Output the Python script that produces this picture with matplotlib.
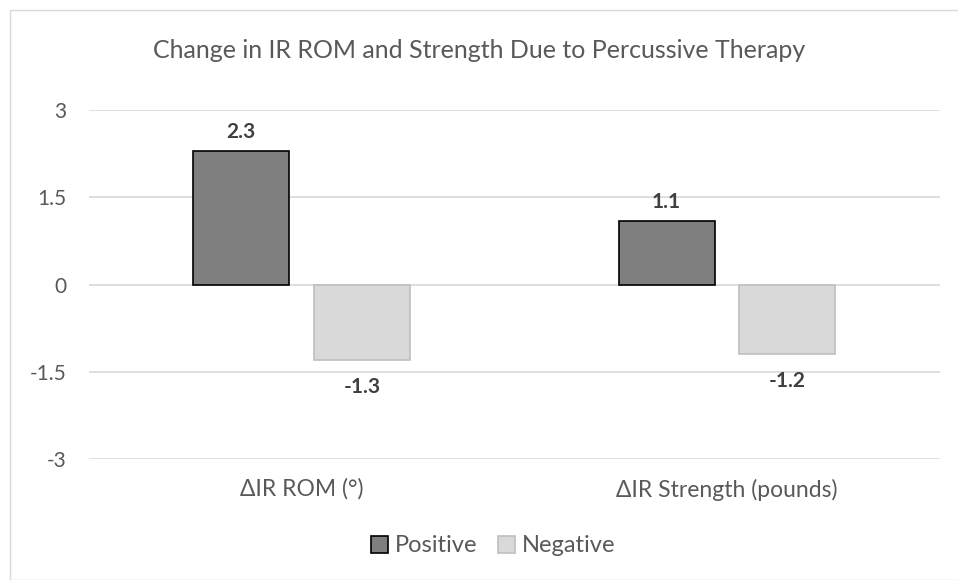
import numpy as np
import matplotlib.pyplot as plt
from matplotlib.patches import Rectangle

categories = ["\u0394IR ROM (\u00b0)", "\u0394IR Strength (pounds)"]
positive = [2.3, 1.1]
negative = [-1.3, -1.2]
series_names = ["Positive", "Negative"]
yticks = [-3, -1.5, 0, 1.5, 3]
ytick_labels = ["-3", "-1.5", "0", "1.5", "3"]

plt.rcParams['font.family'] = ['Lato', 'DejaVu Sans']
txt = '#595959'

fig = plt.figure(figsize=(9.58, 5.8), dpi=100)
ax = fig.add_axes([0.0929, 0.2086, 0.888, 0.6017])

# outer chart border
fig.patches.append(Rectangle((10/958, 0), 1, 1 - 10/580, transform=fig.transFigure,
                             fill=False, edgecolor='#d9d9d9', linewidth=1.0))

x = np.arange(len(categories))
w = 0.226
off = 0.142
b1 = ax.bar(x - off, positive, w, color='#7f7f7f', edgecolor='black', linewidth=1.2,
            label=series_names[0], zorder=3)
b2 = ax.bar(x + off, negative, w, color='#d9d9d9', edgecolor='#bfbfbf', linewidth=1.2,
            label=series_names[1], zorder=3)

for xi, v in zip(x - off, positive):
    ax.annotate(f"{v}", (xi, v), xytext=(0, 6), textcoords='offset points',
                ha='center', va='bottom', fontsize=15, fontweight='bold', color='#404040')
for xi, v in zip(x + off, negative):
    ax.annotate(f"{v}", (xi, v), xytext=(0, -12), textcoords='offset points',
                ha='center', va='top', fontsize=15, fontweight='bold', color='#404040')

ax.set_xlim(-0.5, 1.5)
ax.set_ylim(-3, 3)
ax.set_yticks(yticks)
ax.set_yticklabels(ytick_labels)
ax.set_xticks(x)
ax.set_xticklabels(categories)
ax.tick_params(axis='y', length=0, pad=16, labelsize=15, labelcolor=txt)
ax.tick_params(axis='x', length=0, pad=14, labelsize=16.5, labelcolor=txt)
ax.grid(axis='y', color='#d9d9d9', linewidth=1.2, zorder=0)
for s in ax.spines.values():
    s.set_visible(False)

fig.text(0.5, 1 - 50/580, "Change in IR ROM and Strength Due to Percussive Therapy",
         ha='center', va='center', fontsize=18, color=txt)

fig.legend(handles=[b1, b2], loc='center', bbox_to_anchor=(0.515, 1 - 546/580), ncol=2,
           frameon=False, fontsize=17, labelcolor=txt, handlelength=0.7, handleheight=0.7,
           handletextpad=0.3, columnspacing=0.9)

fig.savefig("out.png", dpi=100)
